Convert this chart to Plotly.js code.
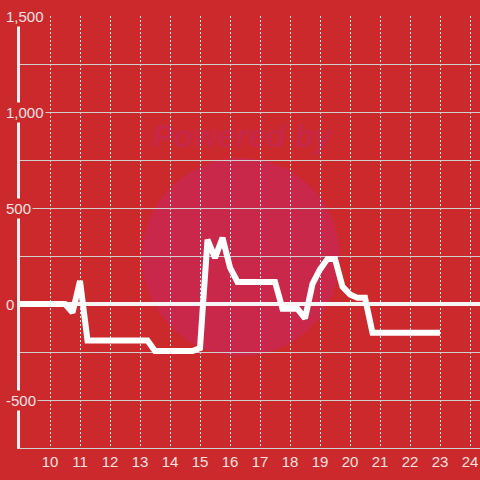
<!DOCTYPE html>
<html>
<head>
<meta charset="utf-8">
<script src="https://cdn.plot.ly/plotly-3.0.1.min.js"></script>
<style>
  html, body { margin: 0; padding: 0; background: #cc292d; }
  #chart { width: 480px; height: 480px; }
</style>
</head>
<body>
<div id="chart"></div>
<script>
// Hour of day (quarter-hour samples)
const hours = [
  9.0, 9.25, 9.5, 9.75, 10.0, 10.25, 10.5, 10.75, 11.0, 11.25,
  11.5, 11.75, 12.0, 12.25, 12.5, 12.75, 13.0, 13.25, 13.5, 13.75,
  14.0, 14.25, 14.5, 14.75, 15.0, 15.25, 15.5, 15.75, 16.0, 16.25,
  16.5, 16.75, 17.0, 17.25, 17.5, 17.75, 18.0, 18.25, 18.5, 18.75,
  19.0, 19.25, 19.5, 19.75, 20.0, 20.25, 20.5, 20.75, 21.0, 21.25,
  21.5, 21.75, 22.0, 22.25, 22.5, 22.75, 23.0
];
const values = [
  0, 0, 0, 0, 0, 0, 0, -45, 120, -190,
  -190, -190, -190, -190, -190, -190, -190, -190, -245, -245,
  -245, -245, -245, -245, -230, 335, 240, 345, 190, 115,
  115, 115, 115, 115, 115, -25, -25, -25, -75, 105,
  180, 235, 235, 90, 50, 32, 32, -150, -150, -150,
  -150, -150, -150, -150, -150, -150, -150
];
const xTickValues = [10, 11, 12, 13, 14, 15, 16, 17, 18, 19, 20, 21, 22, 23, 24];
const yTickValues = [-500, 0, 500, 1000, 1500];
const yTickLabels = ['-500', '0', '500', '1,000', '1,500'];
const watermarkText = 'Powered by';

const BG = '#cc292d';
const LABEL = '#f3e2e2';
const FONT = 'Liberation Sans, Arial, sans-serif';

const trace = {
  x: hours,
  y: values,
  type: 'scatter',
  mode: 'lines',
  line: { color: '#ffffff', width: 6 },
  hoverinfo: 'skip',
  cliponaxis: false
};

const annotations = yTickValues.map((v, i) => ({
  x: 0, xref: 'paper', xanchor: 'left', xshift: -16,
  y: v, yref: 'y', yanchor: 'middle',
  text: yTickLabels[i], showarrow: false,
  bgcolor: BG, borderpad: 1,
  font: { family: FONT, size: 15, color: LABEL }
}));

const layout = {
  width: 480, height: 480,
  margin: { l: 20, r: 0, t: 16, b: 32, pad: 0 },
  paper_bgcolor: BG,
  plot_bgcolor: BG,
  showlegend: false,
  font: { family: FONT, size: 15, color: LABEL },
  xaxis: {
    range: [9, 24.333],
    tickmode: 'array', tickvals: xTickValues,
    showgrid: true, gridcolor: '#ececec', gridwidth: 1, griddash: '2px,2px',
    showline: true, linecolor: '#d0d0d0', linewidth: 1,
    zeroline: false,
    ticks: '',
    tickfont: { family: FONT, size: 15, color: LABEL },
    fixedrange: true
  },
  yaxis: {
    range: [-750, 1500],
    tick0: 0, dtick: 250,
    showgrid: true, gridcolor: '#cfcfcf', gridwidth: 1,
    showline: true, linecolor: '#f2f2f2', linewidth: 3,
    zeroline: true, zerolinecolor: '#f5f5f5', zerolinewidth: 4,
    showticklabels: false, ticks: '',
    fixedrange: true
  },
  shapes: [{
    type: 'circle', layer: 'below',
    xref: 'paper', yref: 'paper',
    x0: (142 - 20) / 460, x1: (340 - 20) / 460,
    y0: (448 - 356) / 432, y1: (448 - 158) / 432,
    fillcolor: '#c9284a', line: { width: 0 }
  }, {
    type: 'rect', layer: 'below',
    xref: 'paper', yref: 'paper',
    x0: (142 - 20) / 460, x1: (342 - 20) / 460,
    y0: (448 - 150) / 432, y1: (448 - 116) / 432,
    fillcolor: 'rgba(0,0,0,0)', line: { width: 0 },
    label: {
      text: watermarkText,
      textposition: 'middle center',
      font: { family: FONT, size: 32, color: '#c72848', weight: 'bold', style: 'italic' }
    }
  }],
  annotations: annotations
};

Plotly.newPlot('chart', [trace], layout, { staticPlot: true, displayModeBar: false });
</script>
</body>
</html>
